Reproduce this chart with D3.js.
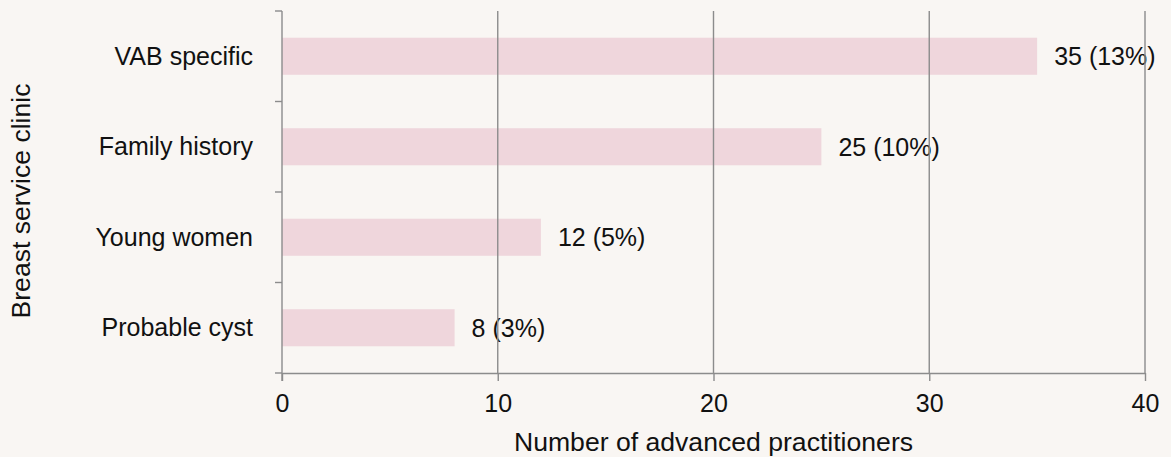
<!DOCTYPE html>
<html>
<head>
<meta charset="utf-8">
<script src="https://cdn.jsdelivr.net/npm/d3@7"></script>
<style>
  html, body { margin: 0; padding: 0; background: #f9f6f3; }
  svg { display: block; }
  text { font-family: "Liberation Sans", Arial, sans-serif; fill: #111; }
</style>
</head>
<body>
<svg id="chart" width="1171" height="457"></svg>
<script>
const categories = ["VAB specific", "Family history", "Young women", "Probable cyst"];
const counts = [35, 25, 12, 8];
const percents = ["13%", "10%", "5%", "3%"];
const xTicks = [0, 10, 20, 30, 40];
const xTitle = "Number of advanced practitioners";
const yTitle = "Breast service clinic";

const W = 1171, H = 457;
const m = {left: 282, top: 11, right: 26, bottom: 84};
const iw = W - m.left - m.right, ih = H - m.top - m.bottom;
const fs = 25;
const titleFs = 26.6;
const gridColor = "#8c8c8c";

const svg = d3.select("#chart");
svg.append("rect").attr("width", W).attr("height", H).attr("fill", "#f9f6f3");
const g = svg.append("g").attr("transform", `translate(${m.left},${m.top})`);

const x = d3.scaleLinear().domain([0, 40]).range([0, iw]);
const y = d3.scaleBand().domain(categories).range([0, ih]).padding(0);
const barH = y.bandwidth() * 0.41;

// bars
g.selectAll("rect.bar").data(categories).join("rect")
  .attr("class", "bar")
  .attr("x", x(0))
  .attr("y", d => y(d) + (y.bandwidth() - barH) / 2)
  .attr("width", (d, i) => x(counts[i]) - x(0))
  .attr("height", barH)
  .attr("fill", "#efd6dc");

// value labels (under gridlines)
g.selectAll("text.val").data(categories).join("text")
  .attr("class", "val")
  .attr("x", (d, i) => x(counts[i]) + 17)
  .attr("y", d => y(d) + y.bandwidth() / 2 + fs * 0.36)
  .attr("font-size", fs)
  .text((d, i) => `${counts[i]} (${percents[i]})`);

// vertical gridlines
g.selectAll("line.grid").data(xTicks.filter(t => t > 0)).join("line")
  .attr("class", "grid")
  .attr("x1", d => x(d)).attr("x2", d => x(d))
  .attr("y1", 0).attr("y2", ih)
  .attr("stroke", gridColor).attr("stroke-width", 1.4);

// x axis
const xAxis = g.append("g").attr("transform", `translate(0,${ih})`)
  .call(d3.axisBottom(x).tickValues(xTicks).tickSize(8).tickPadding(13).tickSizeOuter(0));
xAxis.select(".domain").attr("stroke", gridColor).attr("stroke-width", 1.4);
xAxis.selectAll(".tick line").attr("stroke", gridColor).attr("stroke-width", 1.4);
xAxis.selectAll(".tick text").attr("font-size", fs).attr("font-family", "Liberation Sans, Arial, sans-serif").attr("fill", "#111").attr("dy", "0.71em");

// y axis: line plus ticks at category boundaries
g.append("line").attr("x1", 0).attr("x2", 0).attr("y1", 0).attr("y2", ih + 8)
  .attr("stroke", gridColor).attr("stroke-width", 1.4);
const bounds = categories.map(c => y(c)).concat([ih]);
g.selectAll("line.ytick").data(bounds).join("line")
  .attr("class", "ytick")
  .attr("x1", -7).attr("x2", 0)
  .attr("y1", d => d).attr("y2", d => d)
  .attr("stroke", gridColor).attr("stroke-width", 1.4);

// category labels
g.selectAll("text.cat").data(categories).join("text")
  .attr("class", "cat")
  .attr("x", -29)
  .attr("y", d => y(d) + y.bandwidth() / 2 + fs * 0.34)
  .attr("text-anchor", "end")
  .attr("font-size", fs)
  .text(d => d);

// axis titles
svg.append("text")
  .attr("x", m.left + iw / 2)
  .attr("y", 451)
  .attr("text-anchor", "middle")
  .attr("font-size", titleFs)
  .text(xTitle);

svg.append("text")
  .attr("transform", `translate(30,201) rotate(-90)`)
  .attr("text-anchor", "middle")
  .attr("font-size", titleFs)
  .text(yTitle);
</script>
</body>
</html>
